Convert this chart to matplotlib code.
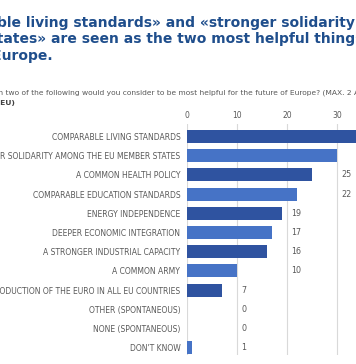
import matplotlib
matplotlib.use("Agg")
import matplotlib.pyplot as plt
import numpy as np

categories = [
    "COMPARABLE LIVING STANDARDS",
    "STRONGER SOLIDARITY AMONG THE EU MEMBER STATES",
    "A COMMON HEALTH POLICY",
    "COMPARABLE EDUCATION STANDARDS",
    "ENERGY INDEPENDENCE",
    "DEEPER ECONOMIC INTEGRATION",
    "A STRONGER INDUSTRIAL CAPACITY",
    "A COMMON ARMY",
    "THE INTRODUCTION OF THE EURO IN ALL EU COUNTRIES",
    "OTHER (SPONTANEOUS)",
    "NONE (SPONTANEOUS)",
    "DON'T KNOW",
]
values = [35, 30, 25, 22, 19, 17, 16, 10, 7, 0, 0, 1]
ticks = [0, 10, 20, 30, 40]

title_lines = [
    "«Comparable living standards» and «stronger solidarity among",
    "Member States» are seen as the two most helpful things for the",
    "future of Europe.",
]
question = ("Which two of the following would you consider to be most helpful "
            "for the future of Europe? (MAX. 2 ANSWERS)")
base = "(% - EU)"

W, H = 356, 364
fig = plt.figure(figsize=(W / 100, H / 100), dpi=100)
fig.patch.set_facecolor("white")

title_col = "#1F4E8C"
gray = "#595959"
dark = "#2F53A0"
light = "#4673C6"

# title, shifted left so the picture is cropped like the reference
r = fig.canvas.get_renderer()
probe = fig.text(0, 0, "«Compara", fontsize=10, fontweight="bold")
shift = probe.get_window_extent(r).width
probe.remove()
fig.text((-shift - 3) / W, 1 - 16 / H, "\n".join(title_lines), fontsize=10,
         fontweight="bold", color=title_col, va="top", ha="left",
         linespacing=1.22)

probe = fig.text(0, 0, "Whic", fontsize=5.4)
shift2 = probe.get_window_extent(r).width
probe.remove()
fig.text((-shift2 - 2) / W, 1 - 93 / H, question, fontsize=5.4, color=gray,
         va="center", ha="left")
probe = fig.text(0, 0, "(% - ", fontsize=5.4, fontweight="bold")
shift3 = probe.get_window_extent(r).width
probe.remove()
fig.text(-shift3 / W, 1 - 103 / H, base, fontsize=5.4, fontweight="bold",
         color="#404040", va="center", ha="left")

# axes: 0 at x=187px, 5 px per point, top at y=124px
ax = fig.add_axes([187.3 / W, 1 - 355 / H, 200 / W, (355 - 124) / H])
y = np.arange(len(categories))
colors = [dark if i % 2 == 0 else light for i in range(len(categories))]
ax.barh(y, values, height=0.68, color=colors, zorder=3)
ax.set_xlim(0, 40)
ax.set_ylim(11.38, -0.65)
ax.set_yticks(y)
ax.set_yticklabels(categories, fontsize=5.5, color=gray)
ax.set_xticks(ticks)
ax.set_xticklabels([str(t) for t in ticks], fontsize=5.5, color=gray)
ax.xaxis.tick_top()
ax.tick_params(axis="both", length=0)
ax.tick_params(axis="y", pad=5)
ax.tick_params(axis="x", pad=3)
ax.grid(axis="x", color="#D9D9D9", linewidth=0.8, zorder=0)
for s in ax.spines.values():
    s.set_visible(False)

for yi, v in zip(y, values):
    xpos = (v // 10) * 10 + 10 + 0.8
    ax.text(xpos, yi, str(v), fontsize=5.8, color=gray, va="center", ha="left")

fig.savefig("out.png", dpi=100)
